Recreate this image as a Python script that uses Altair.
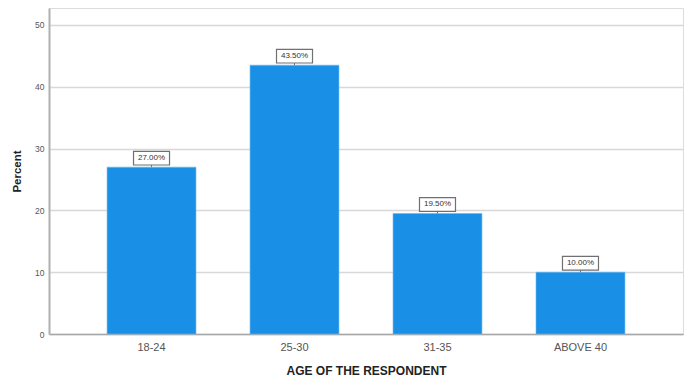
import altair as alt
import pandas as pd

# Age groups of respondents and the share (%) in each
ages = ["18-24", "25-30", "31-35", "ABOVE 40"]
percents = [27.0, 43.5, 19.5, 10.0]
labels = ["27.00%", "43.50%", "19.50%", "10.00%"]

df = pd.DataFrame({"age": ages, "pct": percents, "label": labels})

x_enc = alt.X(
    "age:N",
    sort=ages,
    title="AGE OF THE RESPONDENT",
    scale=alt.Scale(paddingInner=0.378, paddingOuter=0.406),
    axis=alt.Axis(
        labelAngle=0,
        labelFontSize=11,
        labelColor="#555555",
        labelPadding=7,
        ticks=False,
        domainColor="#a8a8a8",
        domainWidth=1.5,
        titleFontSize=12,
        titleFontWeight="bold",
        titleColor="#222222",
        titlePadding=13,
    ),
)

y_scale = alt.Scale(domain=[0, 52.75], nice=False)

bars = alt.Chart(df).mark_bar(color="#1a8fe6", stroke="#6cb8f2", strokeWidth=0.6).encode(
    x=x_enc,
    y=alt.Y(
        "pct:Q",
        scale=y_scale,
        title="Percent",
        axis=alt.Axis(
            values=[0, 10, 20, 30, 40, 50],
            labelFontSize=8.5,
            labelColor="#555555",
            labelPadding=5,
            ticks=False,
            domainColor="#b0b0b0",
            domainWidth=2,
            grid=True,
            gridColor="#d8d8d8",
            gridWidth=1.5,
            titleFontSize=11.5,
            titleFontWeight="bold",
            titleColor="#222222",
            titlePadding=12,
        ),
    ),
)

# short connector from bar top to the value box
connector = alt.Chart(df).mark_rule(color="#777777", strokeWidth=1, y2Offset=-3).encode(
    x=alt.X("age:N", sort=ages),
    y=alt.Y("pct:Q", scale=y_scale),
    y2="pct:Q",
)

# boxed value labels
box = alt.Chart(df).mark_point(
    shape="M-1,-0.38L1,-0.38L1,0.38L-1,0.38Z",
    size=1296,
    filled=False,
    fill="white",
    fillOpacity=1,
    stroke="#707070",
    strokeWidth=1.2,
    opacity=1,
    yOffset=-9,
).encode(
    x=alt.X("age:N", sort=ages),
    y=alt.Y("pct:Q", scale=y_scale),
)

text = alt.Chart(df).mark_text(
    fontSize=8,
    color="#333333",
    yOffset=-9,
    baseline="middle",
    align="center",
).encode(
    x=alt.X("age:N", sort=ages),
    y=alt.Y("pct:Q", scale=y_scale),
    text="label:N",
)

chart = (
    alt.layer(bars, connector, box, text)
    .properties(
        width=634,
        height=326,
        autosize=alt.AutoSizeParams(type="none"),
        padding={"left": 49, "top": 8, "right": 3, "bottom": 43},
    )
    .configure_view(stroke=None)
    .configure(font="Liberation Sans")
)

chart.save("out.html", embed_options={"renderer": "svg", "actions": False})
